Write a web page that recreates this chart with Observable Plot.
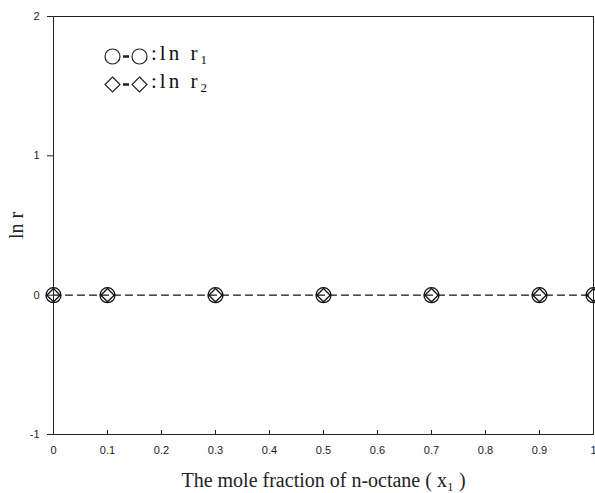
<!DOCTYPE html>
<html>
<head>
<meta charset="utf-8">
<script src="https://cdn.jsdelivr.net/npm/d3@7"></script>
<script src="https://cdn.jsdelivr.net/npm/@observablehq/plot@0.6"></script>
<style>
  html, body { margin: 0; padding: 0; background: #fff; }
  #wrap { position: relative; width: 595px; height: 493px; }
  #legend { position: absolute; left: 103px; top: 42px; font-family: "Liberation Serif", "DejaVu Serif", serif; font-size: 21px; color: #111; line-height: 28px; }
  #legend .row { display: flex; align-items: center; height: 28px; }
  #legend .txt { letter-spacing: 3px; margin-left: 2px; }
  #legend sub { font-size: 13px; vertical-align: -4px; }
</style>
</head>
<body>
<div id="wrap">
  <div id="chart"></div>
  <div id="legend"></div>
</div>
<script>
const xValues = [0, 0.1, 0.3, 0.5, 0.7, 0.9, 1];
const lnR1 = [0, 0, 0, 0, 0, 0, 0];
const lnR2 = [0, 0, 0, 0, 0, 0, 0];
const xTicks = [0, 0.1, 0.2, 0.3, 0.4, 0.5, 0.6, 0.7, 0.8, 0.9, 1];
const yTicks = [-1, 0, 1, 2];
const xLabel = "The mole fraction of n-octane ( x\u2081 )";
const yLabel = "ln r";

const s1 = xValues.map((x, i) => ({x, y: lnR1[i]}));
const s2 = xValues.map((x, i) => ({x, y: lnR2[i]}));

const plot = Plot.plot({
  width: 595,
  height: 493,
  marginLeft: 53,
  marginRight: 2,
  marginTop: 16,
  marginBottom: 59,
  style: {background: "#fff", color: "#222"},
  x: {domain: [0, 1]},
  y: {domain: [-1, 2]},
  marks: [
    Plot.frame({stroke: "#222", strokeWidth: 1}),
    Plot.axisX({ticks: xTicks, tickSize: 0, tickPadding: 12, tickFormat: d => String(d),
      fontFamily: "Liberation Sans, Arial, sans-serif", fontSize: 11, label: null}),
    Plot.tickX(xTicks, {x: d => d, insetTop: 414, stroke: "#222"}),
    Plot.axisX({ticks: [], label: xLabel, labelAnchor: "center", labelArrow: false, labelOffset: 52,
      fontFamily: "Liberation Serif, Times New Roman, serif", fontSize: 20}),
    Plot.axisY({ticks: yTicks, tickSize: 6, tickPadding: 8, tickFormat: d => String(d),
      fontFamily: "Liberation Sans, Arial, sans-serif", fontSize: 11, label: null}),
    Plot.axisY({ticks: [], label: yLabel, labelAnchor: "center", labelArrow: false, labelOffset: 45,
      fontFamily: "Liberation Serif, Times New Roman, serif", fontSize: 20}),
    Plot.line(s1, {x: "x", y: "y", stroke: "#333", strokeWidth: 1, strokeDasharray: "7,5"}),
    Plot.line(s2, {x: "x", y: "y", stroke: "#333", strokeWidth: 1, strokeDasharray: "7,5"}),
    Plot.dot(s1, {x: "x", y: "y", r: 7.5, stroke: "#111", strokeWidth: 1.3, fill: "none"}),
    Plot.dot(s2, {x: "x", y: "y", r: 6, symbol: "diamond2", stroke: "#111", strokeWidth: 1.3, fill: "none"})
  ]
});
document.getElementById("chart").appendChild(plot);

const circ = '<svg width="19" height="19"><circle cx="9.5" cy="9.5" r="7.5" fill="none" stroke="#222" stroke-width="1.2"/></svg>';
const diam = '<svg width="19" height="19"><path d="M9.5 2 L17 9.5 L9.5 17 L2 9.5 Z" fill="none" stroke="#222" stroke-width="1.2"/></svg>';
const dash = '<svg width="8" height="19"><line x1="1" x2="7" y1="9.5" y2="9.5" stroke="#222" stroke-width="2.5"/></svg>';
document.getElementById("legend").innerHTML =
  '<div class="row">' + circ + dash + circ + '<span class="txt">:ln r<sub>1</sub></span></div>' +
  '<div class="row">' + diam + dash + diam + '<span class="txt">:ln r<sub>2</sub></span></div>';
</script>
</body>
</html>
